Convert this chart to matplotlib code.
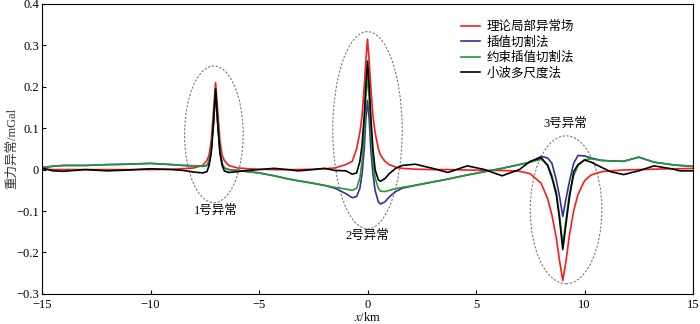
import numpy as np
import matplotlib
matplotlib.use("Agg")
import matplotlib.pyplot as plt
from matplotlib.patches import Ellipse
from matplotlib.ticker import FuncFormatter

plt.rcParams['font.family'] = ['Liberation Serif', 'Noto Sans CJK SC']
plt.rcParams['mathtext.fontset'] = 'stix'

# grille commune en x (km)
x = [-15, -14.5, -14, -13, -12, -11, -10, -9, -8.5, -8, -7.6, -7.4, -7.3, -7.2, -7.1, -7.0,
     -6.9, -6.8, -6.7, -6.6, -6.4, -6, -5.5, -5, -4.3, -3.7, -3.2, -2.5, -2, -1.5, -1.0,
     -0.7, -0.5, -0.35, -0.25, -0.15, -0.08, 0, 0.08, 0.15, 0.25, 0.35, 0.5, 0.6, 0.8, 1.0,
     1.3, 1.6, 2.2, 3, 3.7, 4.6, 5.4, 6.2, 7, 7.5, 8, 8.3, 8.5, 8.7, 8.85, 9, 9.15, 9.3,
     9.5, 9.7, 10, 10.3, 10.8, 11.2, 11.8, 12.5, 13.2, 14, 14.4, 15]

# 理论局部异常场
red = [0.001, 0.0, 0.0, 0.0, 0.0, 0.0, 0.0, 0.001, 0.002, 0.004, 0.01, 0.022, 0.035, 0.07, 0.14, 0.21,
       0.14, 0.07, 0.035, 0.022, 0.01, 0.004, 0.002, 0.001, 0.0, 0.0, 0.0, 0.001, 0.002, 0.004, 0.012,
       0.02, 0.05, 0.09, 0.13, 0.2, 0.26, 0.315, 0.26, 0.2, 0.13, 0.09, 0.05, 0.035, 0.02, 0.012,
       0.006, 0.003, 0.001, 0.0, 0.0, -0.001, -0.002, -0.002, -0.004, -0.01, -0.033, -0.07, -0.11, -0.165, -0.22, -0.268, -0.22, -0.16,
       -0.1, -0.06, -0.027, -0.013, -0.005, -0.003, -0.001, 0.0, 0.001, 0.002, 0.002, 0.003]

# 插值切割法
blue = [0.005, 0.008, 0.01, 0.01, 0.012, 0.013, 0.015, 0.012, 0.01, 0.009, 0.008, 0.01, 0.02, 0.05, 0.11, 0.19,
        0.11, 0.045, 0.015, 0.004, 0.0, -0.002, -0.005, -0.008, -0.015, -0.022, -0.027, -0.033, -0.038, -0.045, -0.058,
        -0.068, -0.065, -0.045, -0.01, 0.05, 0.12, 0.167, 0.12, 0.05, -0.01, -0.05, -0.078, -0.083, -0.078, -0.066,
        -0.053, -0.045, -0.038, -0.03, -0.023, -0.013, -0.005, 0.003, 0.012, 0.018, 0.032, 0.028, 0.015, -0.025, -0.065, -0.113, -0.07, -0.03,
        0.015, 0.034, 0.033, 0.028, 0.022, 0.021, 0.02, 0.03, 0.018, 0.012, 0.01, 0.008]

# 约束插值切割法
green = [0.005, 0.008, 0.01, 0.01, 0.012, 0.013, 0.015, 0.012, 0.01, 0.009, 0.008, 0.01, 0.02, 0.05, 0.11, 0.19,
         0.11, 0.045, 0.015, 0.004, 0.0, -0.002, -0.005, -0.008, -0.015, -0.022, -0.027, -0.033, -0.038, -0.043, -0.047,
         -0.05, -0.045, -0.02, 0.02, 0.09, 0.17, 0.23, 0.17, 0.09, 0.02, -0.02, -0.045, -0.052, -0.053, -0.05,
         -0.046, -0.043, -0.038, -0.03, -0.023, -0.013, -0.005, 0.003, 0.012, 0.018, 0.025, 0.012, -0.015, -0.055, -0.11, -0.182, -0.12, -0.06,
         -0.015, 0.01, 0.024, 0.026, 0.022, 0.021, 0.02, 0.03, 0.018, 0.012, 0.01, 0.008]

# 小波多尺度法
black = [0.004, -0.003, -0.004, 0.0, -0.003, -0.001, 0.002, 0.0, -0.002, -0.006, -0.008, -0.005, 0.01, 0.04, 0.11, 0.195,
         0.11, 0.04, 0.01, -0.003, -0.007, -0.005, -0.002, 0.0, 0.003, 0.0, -0.003, 0.0, 0.003, -0.002, -0.003,
         -0.011, -0.008, 0.02, 0.06, 0.13, 0.2, 0.262, 0.2, 0.13, 0.05, 0.0, -0.025, -0.028, -0.022, -0.01,
         0.003, 0.01, 0.013, 0.003, -0.007, 0.009, 0.0, -0.015, 0.0, 0.02, 0.029, 0.01, -0.02, -0.06, -0.12, -0.193, -0.13, -0.07,
         -0.005, 0.012, 0.023, 0.018, 0.005, -0.005, -0.012, -0.003, 0.009, 0.002, -0.003, -0.003]

series_names = ['理论局部异常场', '插值切割法', '约束插值切割法', '小波多尺度法']
series_colors = ['#ff1a1a', '#3a2d9c', '#1f9b30', '#000000']

# ellipses: (centre x, centre y, largeur, hauteur), etiquette et sa position
ell_x = [-7.08, 0.0, 9.15]
ell_y = [0.085, 0.095, -0.097]
ell_w = [2.7, 3.2, 3.3]
ell_h = [0.33, 0.476, 0.357]
ell_labels = ['1号异常', '2号异常', '3号异常']
lab_x = [-7.0, 0.0, 9.1]
lab_y = [-0.1, -0.16, 0.11]

fig = plt.figure(figsize=(7, 3.24), dpi=100)
ax = fig.add_axes([0.06, 0.093, 0.93, 0.895])

for ys, name, c in zip([red, blue, green, black], series_names, series_colors):
    ax.plot(x, ys, color=c, lw=1.2, label=name)

for cx, cy, w, h in zip(ell_x, ell_y, ell_w, ell_h):
    ax.add_patch(Ellipse((cx, cy), w, h, fill=False, ec='#777777', lw=0.8,
                         ls=(0, (2, 1.5))))
for t, lx, ly in zip(ell_labels, lab_x, lab_y):
    ax.text(lx, ly, t, ha='center', va='center', fontsize=9)

ax.set_xlim(-15, 15)
ax.set_ylim(-0.3, 0.4)
ax.set_xticks([-15, -10, -5, 0, 5, 10, 15])
ax.set_yticks([-0.3, -0.2, -0.1, 0, 0.1, 0.2, 0.3, 0.4])
ax.yaxis.set_major_formatter(FuncFormatter(lambda v, p: '0' if abs(v) < 1e-9 else f'{v:.1f}'.replace('-', '\u2212')))
ax.xaxis.set_major_formatter(FuncFormatter(lambda v, p: f'{v:.0f}'.replace('-', '\u2212')))
ax.tick_params(direction='in', length=3, labelsize=9, width=0.8)
ax.tick_params(axis='y', pad=2)
ax.tick_params(axis='x', pad=4)
for s in ax.spines.values():
    s.set_linewidth(0.8)

ax.set_xlabel('$x$/km', fontsize=9)
ax.xaxis.set_label_coords(0.5, -0.058)
ax.set_ylabel('重力异常/mGal', fontsize=9, color='#333333')
ax.yaxis.set_label_coords(-0.037, 0.5)

ax.legend(loc='upper left', bbox_to_anchor=(0.644, 0.94), frameon=False,
          fontsize=9, handlelength=1.5, handletextpad=0.5, labelspacing=0.25,
          borderpad=0, borderaxespad=0)

fig.savefig('out.png', dpi=100)
